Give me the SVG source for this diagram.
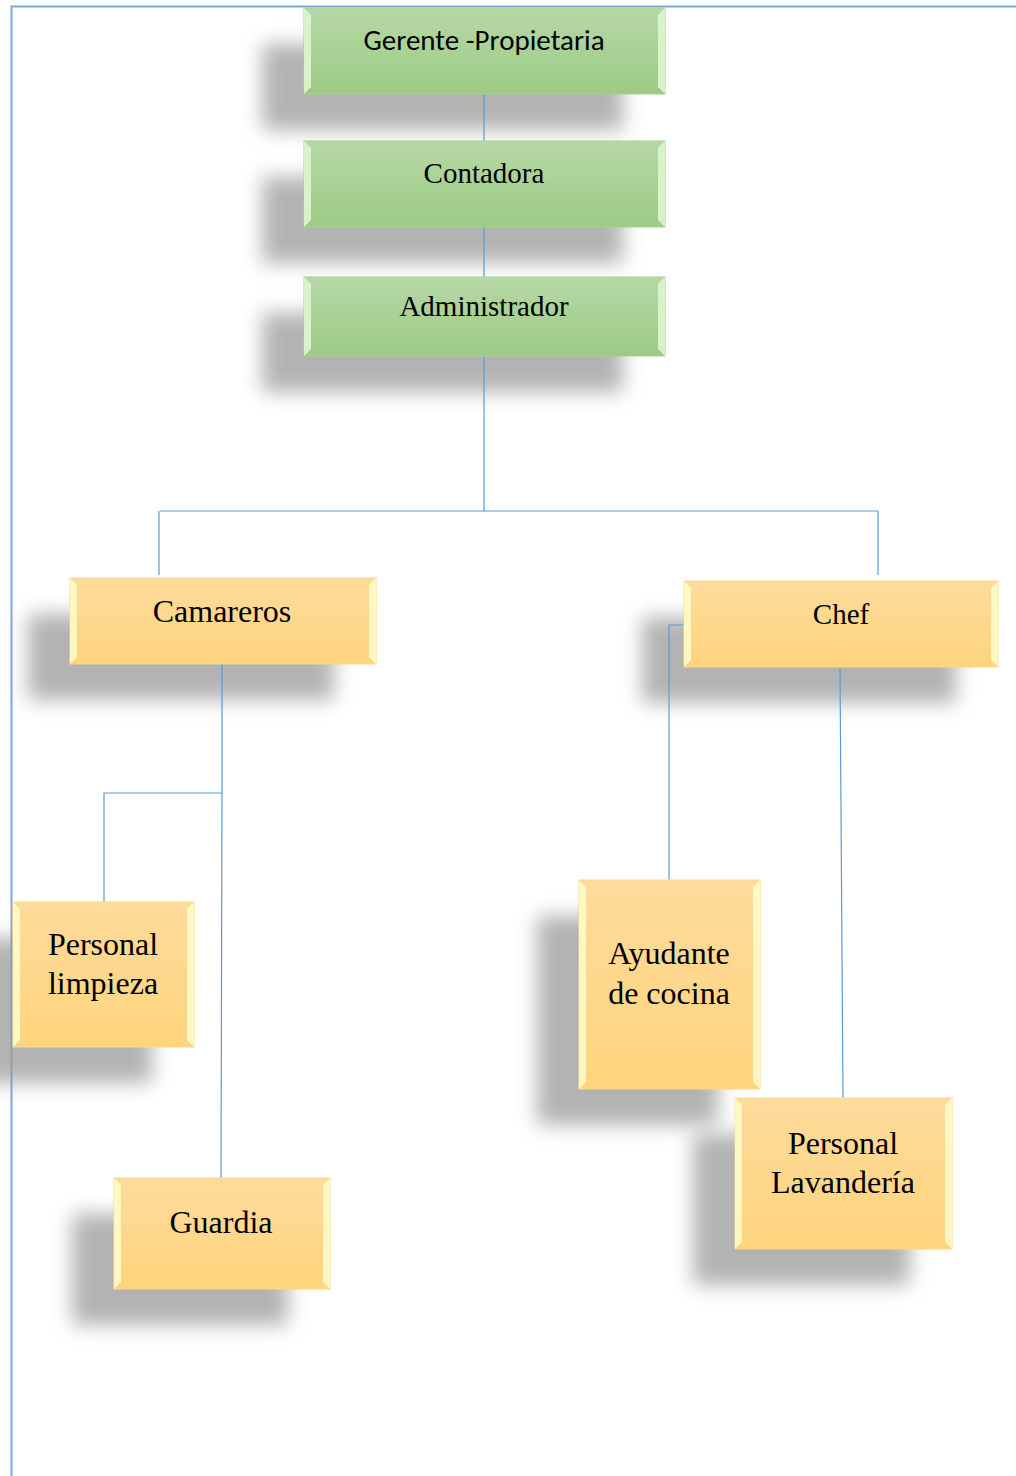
<svg xmlns="http://www.w3.org/2000/svg" width="1016" height="1476" viewBox="0 0 1016 1476">
<defs>
<linearGradient id="gG" x1="0" y1="0" x2="0" y2="1"><stop offset="0" stop-color="#b6d8a6"/><stop offset="1" stop-color="#9ccb85"/></linearGradient>
<linearGradient id="gO" x1="0" y1="0" x2="0" y2="1"><stop offset="0" stop-color="#fedb9c"/><stop offset="1" stop-color="#fed47c"/></linearGradient>
<filter id="sh" x="-30%" y="-40%" width="160%" height="180%"><feGaussianBlur stdDeviation="10"/></filter>
<style>
.shadow{fill:#9a9a9a;opacity:0.75;filter:url(#sh)}
.gb{fill:url(#gG);stroke:#a9d18e;stroke-width:1}
.ob{fill:url(#gO);stroke:#fdd88a;stroke-width:1}
.gl{fill:#dff5cf;opacity:0.9}
.ol{fill:#fffbc8;opacity:0.9}
.conn line,.conn polyline{stroke:#5b9bd5;stroke-width:1.2;fill:none}
.sans{font-family:Carlito,Lato,"Liberation Sans",sans-serif;font-size:29px;fill:#000;text-anchor:middle}
.serif{font-family:"Liberation Serif","Times New Roman",serif;font-size:32px;fill:#000;text-anchor:middle}
.serifs{font-family:"Liberation Serif","Times New Roman",serif;font-size:29px;fill:#000;text-anchor:middle}
.border{stroke:#7aa7dc;stroke-width:2;fill:none}
</style>
</defs>
<rect width="1016" height="1476" fill="#fff"/>
<g id="page-border">
<polyline class="border" points="11.5,1476 11.5,6.5 1016,6.5"/>
</g>
<g id="shadows">
<rect class="shadow" x="262" y="44" width="361" height="86"/>
<rect class="shadow" x="262" y="177" width="361" height="86"/>
<rect class="shadow" x="262" y="313" width="361" height="79"/>
<rect class="shadow" x="28" y="614" width="306" height="86"/>
<rect class="shadow" x="642" y="617" width="314" height="86"/>
<rect class="shadow" x="-29" y="938" width="181" height="145"/>
<rect class="shadow" x="537" y="916" width="181" height="209"/>
<rect class="shadow" x="693" y="1134" width="217" height="151"/>
<rect class="shadow" x="72" y="1214" width="216" height="111"/>
</g>
<g class="conn" id="connectors">
<line x1="484" y1="94" x2="484" y2="141"/>
<line x1="484" y1="227" x2="484" y2="277"/>
<line x1="484" y1="356" x2="484" y2="511"/>
<line x1="160" y1="511" x2="878" y2="511"/>
<line x1="159" y1="511" x2="159" y2="575"/>
<line x1="878" y1="511" x2="878" y2="575"/>
<polyline points="222,664 222,793 104,793 104,902"/>
<line x1="222" y1="793" x2="221" y2="1178"/>
<polyline points="684,625 669,625 669,880"/>
<line x1="840" y1="667" x2="843" y2="1098"/>
</g>
<g id="gerente">
<rect class="gb" x="304" y="8" width="361" height="86"/>
<polygon class="gl" points="304,8 311,15 311,87 304,94"/>
<polygon class="gl" points="665,8 658,15 658,87 665,94"/>
<text class="sans" x="484" y="50">Gerente -Propietaria</text>
</g>
<g id="contadora">
<rect class="gb" x="304" y="141" width="361" height="86"/>
<polygon class="gl" points="304,141 311,148 311,220 304,227"/>
<polygon class="gl" points="665,141 658,148 658,220 665,227"/>
<text class="serifs" x="484" y="183">Contadora</text>
</g>
<g id="administrador">
<rect class="gb" x="304" y="277" width="361" height="79"/>
<polygon class="gl" points="304,277 311,284 311,349 304,356"/>
<polygon class="gl" points="665,277 658,284 658,349 665,356"/>
<text class="serifs" x="484" y="316">Administrador</text>
</g>
<g id="camareros">
<rect class="ob" x="70" y="578" width="306" height="86"/>
<polygon class="ol" points="70,578 77,585 77,657 70,664"/>
<polygon class="ol" points="376,578 369,585 369,657 376,664"/>
<text class="serif" x="222" y="622">Camareros</text>
</g>
<g id="chef">
<rect class="ob" x="684" y="581" width="314" height="86"/>
<polygon class="ol" points="684,581 691,588 691,660 684,667"/>
<polygon class="ol" points="998,581 991,588 991,660 998,667"/>
<text class="serifs" x="841" y="624">Chef</text>
</g>
<g id="personal-limpieza">
<rect class="ob" x="13" y="902" width="181" height="145"/>
<polygon class="ol" points="13,902 20,909 20,1040 13,1047"/>
<polygon class="ol" points="194,902 187,909 187,1040 194,1047"/>
<text class="serif" x="103" y="955">Personal</text>
<text class="serif" x="103" y="994">limpieza</text>
</g>
<g id="ayudante-cocina">
<rect class="ob" x="579" y="880" width="181" height="209"/>
<polygon class="ol" points="579,880 586,887 586,1082 579,1089"/>
<polygon class="ol" points="760,880 753,887 753,1082 760,1089"/>
<text class="serif" x="669" y="964">Ayudante</text>
<text class="serif" x="669" y="1004">de cocina</text>
</g>
<g id="personal-lavanderia">
<rect class="ob" x="735" y="1098" width="217" height="151"/>
<polygon class="ol" points="735,1098 742,1105 742,1242 735,1249"/>
<polygon class="ol" points="952,1098 945,1105 945,1242 952,1249"/>
<text class="serif" x="843" y="1154">Personal</text>
<text class="serif" x="843" y="1193">Lavandería</text>
</g>
<g id="guardia">
<rect class="ob" x="114" y="1178" width="216" height="111"/>
<polygon class="ol" points="114,1178 121,1185 121,1282 114,1289"/>
<polygon class="ol" points="330,1178 323,1185 323,1282 330,1289"/>
<text class="serif" x="221" y="1233">Guardia</text>
</g>
</svg>
